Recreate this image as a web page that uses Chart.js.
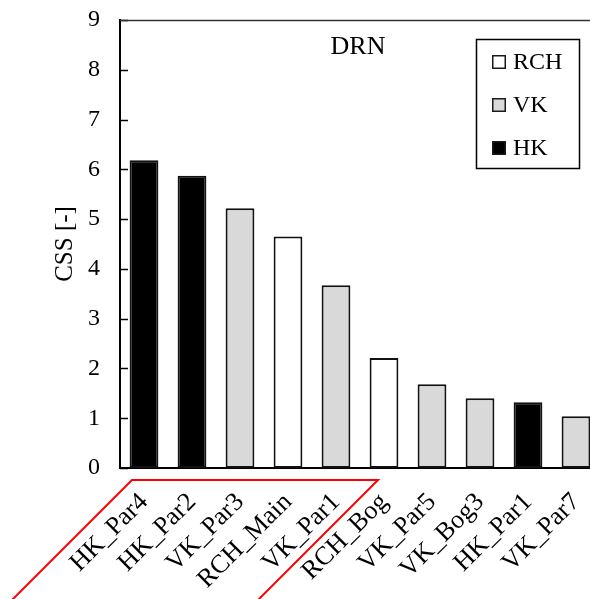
<!DOCTYPE html>
<html>
<head>
<meta charset="utf-8">
<title>DRN CSS</title>
<script src="https://cdn.jsdelivr.net/npm/chart.js@4/dist/chart.umd.min.js"></script>
<style>
  html, body { margin: 0; padding: 0; background: #fff; overflow: hidden; }
  canvas { display: block; }
</style>
</head>
<body>
<canvas id="chart" width="620" height="599"></canvas>
<script>
// Parameters ranked by composite scaled sensitivity (CSS) for the DRN observations
const categories = ['HK_Par4', 'HK_Par2', 'VK_Par3', 'RCH_Main', 'VK_Par1',
                    'RCH_Bog', 'VK_Par5', 'VK_Bog3', 'HK_Par1', 'VK_Par7'];
const cssValues  = [6.18, 5.87, 5.22, 4.65, 3.67, 2.21, 1.68, 1.40, 1.32, 1.04];
const paramGroup = ['HK', 'HK', 'VK', 'RCH', 'VK', 'RCH', 'VK', 'VK', 'HK', 'VK'];
const groupNames = ['RCH', 'VK', 'HK'];
const groupFills = ['#ffffff', '#d9d9d9', '#000000'];
const yTicks     = [0, 1, 2, 3, 4, 5, 6, 7, 8, 9];
const panelTitle = 'DRN';
const yTitle     = 'CSS [-]';
// first and last parameter enclosed by the red outline
const highlighted = ['HK_Par4', 'VK_Par1'];

const FONT = 'Liberation Serif';

// one dataset per parameter group; bars of other groups are left empty
const datasets = groupNames.map((g, gi) => ({
  label: g,
  data: cssValues.map((v, i) => paramGroup[i] === g ? v : null),
  backgroundColor: groupFills[gi],
  borderColor: '#111',
  borderWidth: 2,
  borderSkipped: false,
  grouped: false,
  categoryPercentage: 1.0,
  barPercentage: 0.6
}));

// inward tick marks on the value axis plus the top frame line
const frame = {
  id: 'frame',
  afterDraw(chart) {
    const { ctx, chartArea: a, scales: { y } } = chart;
    ctx.save();
    ctx.strokeStyle = '#000';
    ctx.lineWidth = 1.5;
    y.ticks.forEach(t => {
      const py = Math.round(y.getPixelForValue(t.value)) + 0.5;
      ctx.beginPath();
      ctx.moveTo(a.left, py);
      ctx.lineTo(a.left + 8, py);
      ctx.stroke();
    });
    ctx.strokeStyle = '#333';
    ctx.beginPath();
    ctx.moveTo(a.left, a.top + 0.5);
    ctx.lineTo(a.right, a.top + 0.5);
    ctx.stroke();
    ctx.restore();
  }
};

// panel label and boxed legend inside the plot area
const panelLegend = {
  id: 'panelLegend',
  afterDraw(chart) {
    const { ctx } = chart;
    ctx.save();
    ctx.fillStyle = '#000';
    ctx.font = '26px "' + FONT + '"';
    ctx.textAlign = 'center';
    ctx.textBaseline = 'middle';
    ctx.fillText(panelTitle, 358, 47);

    ctx.strokeStyle = '#000';
    ctx.lineWidth = 1.5;
    ctx.strokeRect(476.5, 39.5, 103, 129);

    ctx.font = '24px "' + FONT + '"';
    ctx.textAlign = 'left';
    chart.data.datasets.forEach((ds, i) => {
      const cy = 62 + i * 43;
      ctx.fillStyle = ds.backgroundColor;
      ctx.fillRect(492, cy - 7, 14, 14);
      ctx.lineWidth = 1.5;
      ctx.strokeStyle = '#1a1a1a';
      ctx.strokeRect(492.75, cy - 6.25, 12.5, 12.5);
      ctx.fillStyle = '#000';
      ctx.fillText(ds.label, 513, cy + 1);
    });
    ctx.restore();
  }
};

// red outline around the highlighted group of parameter labels
const highlightOutline = {
  id: 'highlightOutline',
  afterDraw(chart) {
    const { ctx, scales: { x }, chartArea: a } = chart;
    const i0 = categories.indexOf(highlighted[0]);
    const i1 = categories.indexOf(highlighted[1]);
    const step = x.getPixelForValue(1) - x.getPixelForValue(0);
    const xl = x.getPixelForValue(i0) - step * 0.25;
    const xr = x.getPixelForValue(i1) + step * 0.875;
    const yt = a.bottom + 12;
    const drop = chart.height - yt + 10;
    ctx.save();
    ctx.strokeStyle = '#ff0000';
    ctx.lineWidth = 2;
    ctx.beginPath();
    ctx.moveTo(xl - drop, yt + drop);
    ctx.lineTo(xl, yt);
    ctx.lineTo(xr, yt);
    ctx.lineTo(xr - drop, yt + drop);
    ctx.stroke();
    ctx.restore();
  }
};

new Chart(document.getElementById('chart'), {
  type: 'bar',
  data: { labels: categories, datasets },
  options: {
    responsive: false,
    animation: false,
    devicePixelRatio: 1,
    layout: { padding: { top: 20, right: 20, left: 0, bottom: 0 } },
    plugins: {
      legend: { display: false },
      tooltip: { enabled: false }
    },
    scales: {
      x: {
        grid: { display: false, drawTicks: false },
        border: { display: true, color: '#000', width: 2 },
        ticks: {
          autoSkip: false,
          minRotation: 45,
          maxRotation: 45,
          padding: 19,
          color: '#000',
          font: { family: FONT, size: 26 }
        },
        afterFit(scale) {
          scale.height = 131;
          scale.paddingLeft = 0;
          scale.paddingRight = 0;
        }
      },
      y: {
        min: yTicks[0],
        max: yTicks[yTicks.length - 1],
        afterBuildTicks(scale) { scale.ticks = yTicks.map(v => ({ value: v })); },
        grid: { display: false, drawTicks: false },
        border: { display: true, color: '#000', width: 2 },
        ticks: {
          padding: 20,
          color: '#000',
          font: { family: FONT, size: 24 }
        },
        title: {
          display: true,
          text: yTitle,
          color: '#000',
          font: { family: FONT, size: 25 },
          padding: { top: 50, bottom: 0 }
        },
        afterFit(scale) {
          scale.width = 120;
          scale.paddingTop = 0;
          scale.paddingBottom = 0;
        }
      }
    }
  },
  plugins: [frame, panelLegend, highlightOutline]
});
</script>
</body>
</html>
